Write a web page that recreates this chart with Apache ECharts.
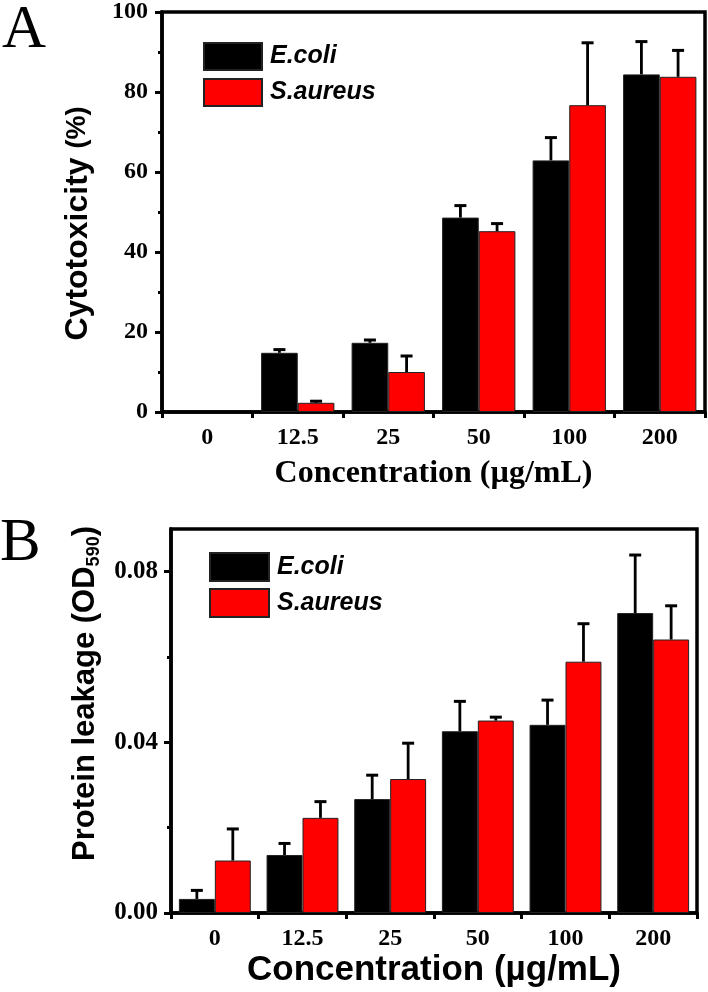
<!DOCTYPE html>
<html>
<head>
<meta charset="utf-8">
<script src="https://cdn.jsdelivr.net/npm/echarts@6/dist/echarts.min.js"></script>
<style>
html,body{margin:0;padding:0;background:#fff;}
#chart{width:708px;height:992px;}
</style>
</head>
<body>
<div id="chart"></div>
<script>
// ---- data ----
const categories = ['0', '12.5', '25', '50', '100', '200'];
const seriesNames = ['E.coli', 'S.aureus'];

// Panel A: Cytotoxicity (%)
const cytoEcoli = [0, 14.8, 17.3, 48.6, 62.9, 84.4];
const cytoEcoliErr = [0, 0.8, 0.7, 3.0, 5.7, 8.2];
const cytoSaureus = [0, 2.3, 10.0, 45.2, 76.7, 83.8];
const cytoSaureusErr = [0, 0.4, 4.0, 1.9, 15.6, 6.6];

// Panel B: Protein leakage (OD590)
const leakEcoli = [0.0033, 0.0136, 0.0267, 0.0426, 0.0441, 0.0703];
const leakEcoliErr = [0.0020, 0.0027, 0.0056, 0.0070, 0.0058, 0.0136];
const leakSaureus = [0.0123, 0.0223, 0.0314, 0.0451, 0.0589, 0.0641];
const leakSaureusErr = [0.0074, 0.0038, 0.0084, 0.0008, 0.0089, 0.0079];

const leakLabelValues = [0, 0.04, 0.08];
const leakMinorValues = [0.02, 0.06];

// ---- styles ----
const SERIF = 'Liberation Serif';
const SANS = 'Liberation Sans';
const BLACK = '#000000';
const RED = '#ff0000';
const gapA = 0.19, gapB = 0.18;

const tickLabel = (size) => ({ fontFamily: SERIF, fontWeight: 'bold', fontSize: size, color: BLACK });

function errSeries(name, xi, vals, errs, side, gap) {
  return {
    name: name, type: 'custom', xAxisIndex: xi, yAxisIndex: xi, z: 5, silent: true,
    data: vals.map((v, i) => [i, v, errs[i]]),
    encode: { x: 0, y: 1 },
    renderItem: function (params, api) {
      const v = api.value(1), e = api.value(2);
      if (!(e > 0)) return { type: 'group', children: [] };
      const base = api.coord([api.value(0), v]);
      const top = api.coord([api.value(0), v + e]);
      const band = api.size([1, 0])[0];
      const bw = band * (1 - gap) / 2;
      const x = base[0] + side * bw / 2;
      const cap = 6;
      return {
        type: 'group',
        children: [
          { type: 'line', shape: { x1: x, y1: base[1], x2: x, y2: top[1] }, style: { stroke: BLACK, lineWidth: 2.8 } },
          { type: 'line', shape: { x1: x - cap, y1: top[1], x2: x + cap, y2: top[1] }, style: { stroke: BLACK, lineWidth: 3 } }
        ]
      };
    }
  };
}

function barSeries(name, xi, vals, color, gap) {
  return {
    name: name, type: 'bar', xAxisIndex: xi, yAxisIndex: xi,
    data: vals.map((v) => (v === 0 ? { value: v, itemStyle: { borderWidth: 0 } } : v)),
    barGap: '0%', barCategoryGap: Math.round(gap * 100) + '%',
    itemStyle: { color: color, borderColor: '#222', borderWidth: 1 }
  };
}

const axisLine = { show: true, lineStyle: { color: BLACK, width: 3.5 } };

const option = {
  animation: false,
  backgroundColor: '#ffffff',
  graphic: [
    { type: 'text', x: 2, y: 31, style: { text: 'A', fontFamily: SERIF, fontSize: 61, fill: BLACK, verticalAlign: 'middle', align: 'left' } },
    { type: 'text', x: 0, y: 544, style: { text: 'B', fontFamily: SERIF, fontSize: 61, fill: BLACK, verticalAlign: 'middle', align: 'left' } }
  ],
  legend: [
    {
      left: 203, top: 42, orient: 'vertical', padding: 0, itemGap: 7, itemWidth: 58, itemHeight: 27,
      icon: 'rect', data: seriesNames,
      textStyle: { fontFamily: SANS, fontWeight: 'bold', fontStyle: 'italic', fontSize: 25, color: BLACK, padding: [0, 0, 0, 3] }
    },
    {
      left: 209, top: 552, orient: 'vertical', padding: 0, itemGap: 6, itemWidth: 59, itemHeight: 28,
      icon: 'rect', data: seriesNames,
      textStyle: { fontFamily: SANS, fontWeight: 'bold', fontStyle: 'italic', fontSize: 25, color: BLACK, padding: [0, 0, 0, 3] }
    }
  ],
  grid: [
    { left: 162, top: 11, width: 543, height: 401, show: true, borderColor: BLACK, borderWidth: 3.5, backgroundColor: 'transparent' },
    { left: 171, top: 529, width: 526, height: 384, show: true, borderColor: BLACK, borderWidth: 3.5, backgroundColor: 'transparent' }
  ],
  xAxis: [
    {
      gridIndex: 0, type: 'category', data: categories,
      axisLine: axisLine,
      axisTick: { show: true, length: 6, lineStyle: { color: BLACK, width: 3 } },
      axisLabel: Object.assign({ margin: 14, interval: 0 }, tickLabel(24)),
      splitLine: { show: false },
      name: 'Concentration (µg/mL)', nameLocation: 'middle', nameGap: 46,
      nameTextStyle: { fontFamily: SERIF, fontWeight: 'bold', fontSize: 32, color: BLACK }
    },
    {
      gridIndex: 1, type: 'category', data: categories,
      axisLine: axisLine,
      axisTick: { show: true, length: 6, lineStyle: { color: BLACK, width: 3 } },
      axisLabel: Object.assign({ margin: 14, interval: 0 }, tickLabel(24)),
      splitLine: { show: false },
      name: 'Concentration (µg/mL)', nameLocation: 'middle', nameGap: 40,
      nameTextStyle: { fontFamily: SANS, fontWeight: 'bold', fontSize: 35, color: BLACK }
    }
  ],
  yAxis: [
    {
      gridIndex: 0, type: 'value', min: 0, max: 100, interval: 20,
      axisLine: axisLine,
      axisTick: { show: true, length: 7, lineStyle: { color: BLACK, width: 3 } },
      minorTick: { show: true, splitNumber: 2, length: 4, lineStyle: { color: BLACK, width: 3 } },
      splitLine: { show: false }, minorSplitLine: { show: false },
      axisLabel: Object.assign({ margin: 14 }, tickLabel(24)),
      name: '{a|Cytotoxicity }{b|(%)}', nameLocation: 'middle', nameGap: 67,
      nameTextStyle: {
        color: BLACK, padding: [0, 23, 0, 0],
        rich: {
          a: { fontFamily: SANS, fontWeight: 'bold', fontSize: 32, color: BLACK, lineHeight: 34 },
          b: { fontFamily: SANS, fontWeight: 'bold', fontSize: 27, color: BLACK, lineHeight: 34 }
        }
      }
    },
    {
      gridIndex: 1, type: 'value', min: 0, max: 0.09, interval: 0.01,
      axisLine: axisLine,
      axisTick: { show: true, length: 7, customValues: leakLabelValues, lineStyle: { color: BLACK, width: 3 } },
      splitLine: { show: false },
      axisLabel: Object.assign({ margin: 13, customValues: leakLabelValues, formatter: (v) => v.toFixed(2) }, tickLabel(25)),
      name: '{a|Protein leakage (OD}{s|590}{a|)}', nameLocation: 'middle', nameGap: 64,
      nameTextStyle: {
        color: BLACK, padding: [0, 0, 0, 55],
        rich: {
          a: { fontFamily: SANS, fontWeight: 'bold', fontSize: 31, color: BLACK, lineHeight: 36 },
          s: { fontFamily: SANS, fontWeight: 'bold', fontSize: 18, color: BLACK, lineHeight: 18, verticalAlign: 'bottom' }
        }
      }
    },
    {
      gridIndex: 1, type: 'value', min: 0, max: 0.09, interval: 0.01, position: 'left',
      axisLine: { show: false },
      axisTick: { show: true, length: 4, customValues: leakMinorValues, lineStyle: { color: BLACK, width: 3 } },
      axisLabel: { show: false }, splitLine: { show: false }
    }
  ],
  series: [
    barSeries('E.coli', 0, cytoEcoli, BLACK, gapA),
    barSeries('S.aureus', 0, cytoSaureus, RED, gapA),
    errSeries('E.coli err', 0, cytoEcoli, cytoEcoliErr, -1, gapA),
    errSeries('S.aureus err', 0, cytoSaureus, cytoSaureusErr, 1, gapA),
    barSeries('E.coli', 1, leakEcoli, BLACK, gapB),
    barSeries('S.aureus', 1, leakSaureus, RED, gapB),
    errSeries('E.coli err', 1, leakEcoli, leakEcoliErr, -1, gapB),
    errSeries('S.aureus err', 1, leakSaureus, leakSaureusErr, 1, gapB)
  ]
};

const chart = echarts.init(document.getElementById('chart'), null, { renderer: 'canvas' });
chart.setOption(option);
</script>
</body>
</html>
